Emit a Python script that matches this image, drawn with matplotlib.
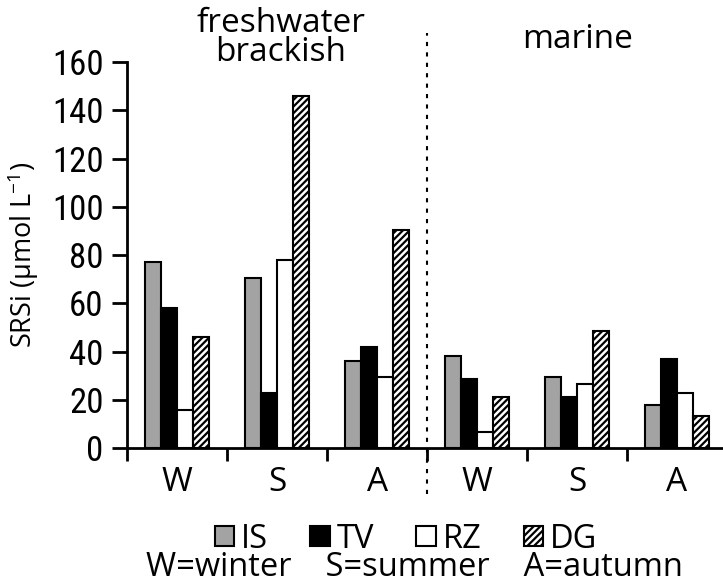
import matplotlib
matplotlib.use("Agg")
import matplotlib.pyplot as plt
from matplotlib.patches import Patch
from matplotlib.lines import Line2D
import numpy as np

plt.rcParams['font.family'] = ['Open Sans', 'DejaVu Sans']
plt.rcParams['hatch.linewidth'] = 1.6

seasons = ["W", "S", "A", "W", "S", "A"]
sites = ["IS", "TV", "RZ", "DG"]
IS = [77, 70.5, 36, 38, 29.5, 18]
TV = [58, 23, 42, 28.5, 21, 37]
RZ = [16, 78, 29.5, 6.5, 26.5, 23]
DG = [46, 146, 90.5, 21, 48.5, 13.5]
yticks = [0, 20, 40, 60, 80, 100, 120, 140, 160]

FS = 24
fig = plt.figure(figsize=(7.23, 5.85), dpi=100)
ax = fig.add_axes([0.176, 0.234, 0.824, 0.66])

x = np.arange(len(seasons))
w = 0.16
styles = [
    dict(facecolor="#a3a3a3", hatch=None),
    dict(facecolor="black", hatch=None),
    dict(facecolor="white", hatch=None),
    dict(facecolor="white", hatch="/////"),
]
for i, (vals, st) in enumerate(zip([IS, TV, RZ, DG], styles)):
    ax.bar(x + (i - 1.5) * w, vals, width=w, edgecolor="black",
           linewidth=1.5, **st)

ax.set_xlim(-0.5, 5.46)
ax.set_ylim(0, 160)
ax.set_yticks(yticks)
ax.set_yticklabels([str(v) for v in yticks], fontsize=25,
                   family=['Roboto Condensed', 'DejaVu Sans'])
ax.set_xticks([-0.5, 0.5, 1.5, 2.5, 3.5, 4.5])
ax.set_xticklabels([])
ax.set_xticks(x, minor=True)
ax.set_xticklabels(seasons, minor=True, fontsize=FS)
ax.tick_params(axis="x", which="minor", length=0, pad=13)
ax.tick_params(axis="x", which="major", length=9, width=2, direction="out")
ax.tick_params(axis="y", length=11, width=2, pad=6)
for s in ["top", "right"]:
    ax.spines[s].set_visible(False)
for s in ["left", "bottom"]:
    ax.spines[s].set_linewidth(2)

ax.set_ylabel("SRSi (µmol L$^{\\mathregular{-1}}$)", fontsize=19.5, labelpad=8)

# dotted divider between freshwater/brackish and marine sites
trans = ax.get_xaxis_transform()
ax.add_line(Line2D([2.5, 2.5], [-0.12, 1.075], transform=trans,
                   color="black", linewidth=1.5, linestyle=(0, (2, 3)),
                   clip_on=False))

fig.text(281 / 723, 1 - 38 / 585, "freshwater\nbrackish", fontsize=FS,
         ha="center", va="center", linespacing=0.85)
fig.text(578 / 723, 1 - 40 / 585, "marine", fontsize=FS,
         ha="center", va="center")

handles = [Patch(edgecolor="black", linewidth=1.5, **st) for st in styles]
fig.legend(handles, sites, loc="center", bbox_to_anchor=(406 / 723, 1 - 539 / 585),
           ncol=4, frameon=False, fontsize=23.5, handlelength=0.6,
           handleheight=0.6, handletextpad=0.2, columnspacing=1.3,
           borderpad=0, borderaxespad=0)
fig.text(414 / 723, 1 - 568 / 585, "W=winter    S=summer    A=autumn",
         fontsize=23.5, ha="center", va="center")

fig.savefig("out.png", dpi=100)
